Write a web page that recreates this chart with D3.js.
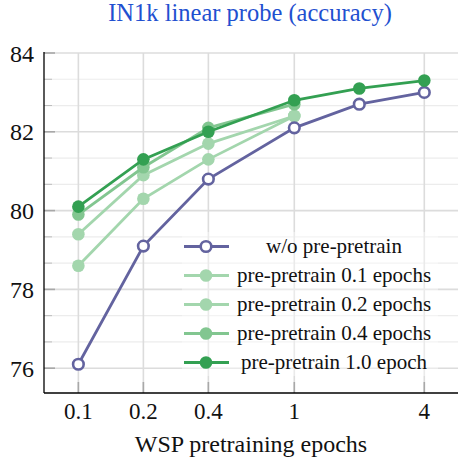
<!DOCTYPE html>
<html><head><meta charset="utf-8">
<script src="https://cdn.jsdelivr.net/npm/d3@7"></script>
<style>body{margin:0;background:#fff}svg{display:block}</style>
</head><body><svg id="c" width="458" height="457"></svg>
<script>
const epochs = [0.1, 0.2, 0.4, 1, 2, 4];
const woPre = [76.1, 79.1, 80.8, 82.1, 82.7, 83.0];
const pre01 = [78.6, 80.3, 81.3, 82.4];
const pre02 = [79.4, 80.9, 81.7, 82.4];
const pre04 = [79.9, 81.1, 82.1, 82.7];
const pre10 = [80.1, 81.3, 82.0, 82.8, 83.1, 83.3];
const xTicks = [0.1, 0.2, 0.4, 1, 4];
const yTicks = [76, 78, 80, 82, 84];
const seriesNames = ["w/o pre-pretrain", "pre-pretrain 0.1 epochs", "pre-pretrain 0.2 epochs", "pre-pretrain 0.4 epochs", "pre-pretrain 1.0 epoch"];
const seriesValues = [woPre, pre01, pre02, pre04, pre10];
const colors = ["#63639f", "#a3d6ad", "#a3d6ad", "#82c690", "#33a052"];

const FONT = '"Liberation Serif", Tinos, "STIX Two Text", serif';
const svg = d3.select("#c");
const L = 44, R = 458, T = 53, B = 393;
const x = d3.scaleLog().base(2).domain([Math.pow(2, (L - 294.3) / 65), Math.pow(2, (R - 294.3) / 65)]).range([L, R]);
const y = d3.scaleLinear().domain([75.37, 84]).range([B, T]);

// minor grid
const minorY = [];
for (let v = 76; v < 84; v += 2) { minorY.push(v + 2/3, v + 4/3); }
svg.append("g").selectAll("line").data(minorY).join("line")
  .attr("x1", L).attr("x2", R).attr("y1", d => y(d)).attr("y2", d => y(d))
  .attr("stroke", "#ececec").attr("stroke-width", 1.2);
svg.append("g").selectAll("line").data(minorY).join("line")
  .attr("x1", L).attr("x2", L + 8).attr("y1", d => y(d)).attr("y2", d => y(d))
  .attr("stroke", "#bdbdbd").attr("stroke-width", 1);
// major grid
svg.append("g").selectAll("line").data(yTicks).join("line")
  .attr("x1", L).attr("x2", R).attr("y1", d => y(d)).attr("y2", d => y(d))
  .attr("stroke", "#dcdcdc").attr("stroke-width", 1.6);
svg.append("g").selectAll("line").data(xTicks).join("line")
  .attr("x1", d => x(d)).attr("x2", d => x(d)).attr("y1", T).attr("y2", B)
  .attr("stroke", "#dcdcdc").attr("stroke-width", 1.6);
// major ticks
svg.append("g").selectAll("line").data(yTicks).join("line")
  .attr("x1", L).attr("x2", L + 11).attr("y1", d => y(d)).attr("y2", d => y(d))
  .attr("stroke", "#a8a8a8").attr("stroke-width", 1.6);
svg.append("g").selectAll("line").data(xTicks).join("line")
  .attr("x1", d => x(d)).attr("x2", d => x(d)).attr("y1", B).attr("y2", B - 11)
  .attr("stroke", "#a8a8a8").attr("stroke-width", 1.6);

// axes lines
svg.append("line").attr("x1", L).attr("x2", L).attr("y1", T - 1).attr("y2", B).attr("stroke", "#000").attr("stroke-width", 1.3);
svg.append("line").attr("x1", L).attr("x2", R).attr("y1", B).attr("y2", B).attr("stroke", "#000").attr("stroke-width", 1.3);

// tick labels
svg.append("g").selectAll("text").data(yTicks).join("text")
  .attr("x", L - 10).attr("y", d => y(d) + 8.5).attr("text-anchor", "end")
  .style("font-family", FONT).style("font-size", "24px").attr("fill", "#111").text(d => d);
svg.append("g").selectAll("text").data(xTicks).join("text")
  .attr("x", d => x(d)).attr("y", 418.5).attr("text-anchor", "middle")
  .style("font-family", FONT).style("font-size", "23px").attr("fill", "#111").text(d => d);

// axis label & title
svg.append("text").attr("x", 251).attr("y", 451.5).attr("text-anchor", "middle")
  .style("font-family", FONT).style("font-size", "24px").attr("fill", "#111").text("WSP pretraining epochs");
svg.append("text").attr("x", 250).attr("y", 20.5).attr("text-anchor", "middle")
  .style("font-family", FONT).style("font-size", "24.5px").attr("fill", "#1f50d0").text("IN1k linear probe (accuracy)");

// series
const line = d3.line().x(d => x(d[0])).y(d => y(d[1]));
const order = [1, 2, 3, 0, 4];
order.forEach(i => {
  const pts = seriesValues[i].map((v, j) => [epochs[j], v]);
  const g = svg.append("g");
  g.append("path").attr("d", line(pts)).attr("fill", "none").attr("stroke", colors[i]).attr("stroke-width", 2.8);
  g.selectAll("circle").data(pts).join("circle")
    .attr("cx", d => x(d[0])).attr("cy", d => y(d[1]))
    .attr("r", i === 0 ? 5.3 : 6.3)
    .attr("fill", i === 0 ? "#fff" : colors[i])
    .attr("stroke", colors[i]).attr("stroke-width", i === 0 ? 2.6 : 0);
});

// legend
const lg = svg.append("g");
lg.append("rect").attr("x", 182).attr("y", 232).attr("width", 256).attr("height", 144).attr("fill", "#fff").attr("fill-opacity", 0.4);
seriesNames.forEach((n, i) => {
  const ly = 246.5 + i * 29;
  lg.append("line").attr("x1", 184).attr("x2", 229).attr("y1", ly).attr("y2", ly).attr("stroke", colors[i]).attr("stroke-width", 2.8);
  lg.append("circle").attr("cx", 206).attr("cy", ly).attr("r", i === 0 ? 5.3 : 6.3)
    .attr("fill", i === 0 ? "#fff" : colors[i]).attr("stroke", colors[i]).attr("stroke-width", i === 0 ? 2.6 : 0);
  lg.append("text").attr("x", 334).attr("y", ly + 6.5).attr("text-anchor", "middle")
    .style("font-family", FONT).style("font-size", "21px").attr("fill", "#111").text(n);
});
</script></body></html>
